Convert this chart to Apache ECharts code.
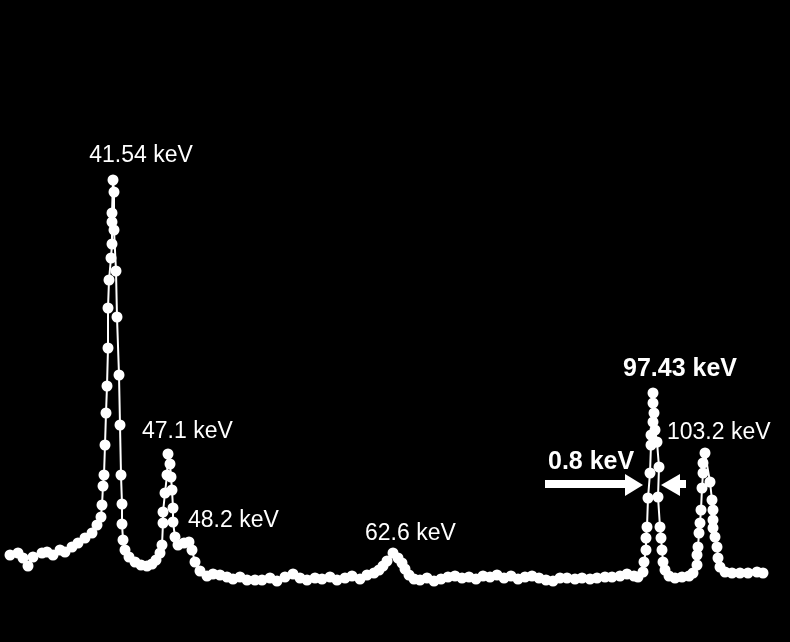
<!DOCTYPE html>
<html>
<head>
<meta charset="utf-8">
<title>spectrum</title>
<script src="https://cdn.jsdelivr.net/npm/echarts@6/dist/echarts.min.js"></script>
<style>
  html, body { margin: 0; padding: 0; background: #000; }
  #chart { width: 790px; height: 642px; }
</style>
</head>
<body>
<div id="chart"></div>
<script>
// channel position (along energy axis) and counts in drawing order
var channel = [
  10, 18, 23, 28, 33, 42, 47, 53, 60, 65, 72, 78, 85, 92, 97,
  101, 102, 103, 104, 105, 106, 107, 108, 108, 109, 111, 112, 112, 112, 113,
  114, 114, 116, 117, 119, 120, 121, 122, 122, 123, 125, 129, 135, 141, 147, 152, 156, 160,
  162, 163, 163, 165, 167, 168,
  170, 171, 172, 173, 173, 175, 178, 184, 189, 192, 195, 200, 207, 213, 220, 227, 233, 240, 247, 255,
  262, 270, 277, 285, 293, 300, 307, 315, 322, 330, 337, 345, 352, 360, 367, 374, 379, 383, 387, 393,
  398, 402, 405, 409, 414, 420, 427, 434, 441, 448, 455, 462, 469, 476, 483, 490, 497, 504, 511, 518,
  525, 532, 539, 546, 553, 560, 567, 575, 582, 590, 597, 605, 612, 620, 627, 634, 638,
  643, 644, 646, 646, 647, 648, 650, 651, 651, 653, 653, 653,
  654, 655, 657, 659, 658, 660, 661, 662, 663, 665, 669, 675, 682, 689, 693,
  697, 697, 698, 699, 700, 701, 702, 703, 703, 705,
  710, 712, 713, 713, 713, 715, 717, 718, 720, 725, 732, 740, 748, 757, 763
];
var counts = [
  87, 89, 84, 76, 85, 89, 90, 87, 92, 90, 95, 99, 104, 109, 117,
  125, 137, 156, 167, 197, 229, 256, 294, 334, 362, 384, 398, 420, 429, 462,
  450, 412, 371, 325, 267, 217, 167, 138, 118, 102, 92, 85, 80, 77, 76, 78, 82, 89,
  97, 119, 130, 149, 167, 188,
  178, 165, 152, 134, 120, 105, 97, 99, 100, 92, 80, 71, 66, 68, 67, 65, 63, 65, 62, 62,
  62, 64, 61, 65, 68, 64, 62, 64, 63, 65, 62, 64, 66, 63, 67, 69, 72, 76, 81, 89,
  84, 79, 73, 67, 63, 62, 64, 61, 63, 65, 66, 64, 65, 63, 66, 65, 67, 64, 66, 63,
  65, 66, 64, 62, 61, 64, 64, 63, 64, 63, 64, 65, 65, 66, 68, 66, 65,
  70, 80, 92, 104, 115, 144, 169, 197, 207, 220, 239, 249,
  229, 212, 200, 175, 145, 115, 104, 92, 80, 72, 66, 64, 65, 66, 69,
  77, 87, 95, 109, 119, 132, 154, 169, 179, 189,
  160, 142, 132, 122, 114, 105, 95, 84, 75, 70, 69, 69, 69, 70, 69
];
var peakLabels = ['41.54 keV', '47.1 keV', '48.2 keV', '62.6 keV', '97.43 keV', '103.2 keV'];
var widthLabel = '0.8 keV';

var points = channel.map(function (c, i) { return [c, counts[i]]; });

var chart = echarts.init(document.getElementById('chart'));
var normalFont = '23px "Liberation Sans", Arial, sans-serif';
var boldFont = 'bold 25px "Liberation Sans", Arial, sans-serif';

chart.setOption({
  backgroundColor: '#000',
  animation: false,
  grid: { left: 0, right: 0, top: 0, bottom: 0 },
  xAxis: { type: 'value', min: 0, max: 790, show: false },
  yAxis: { type: 'value', min: 0, max: 642, show: false },
  series: [{
    type: 'line',
    data: points,
    symbol: 'circle',
    symbolSize: 11,
    showAllSymbol: true,
    lineStyle: { color: '#fff', width: 2 },
    itemStyle: { color: '#fff' }
  }],
  graphic: [
    { type: 'text', x: 141, y: 156, style: { text: peakLabels[0], font: normalFont, fill: '#fff', align: 'center', verticalAlign: 'middle' } },
    { type: 'text', x: 142, y: 432, style: { text: peakLabels[1], font: normalFont, fill: '#fff', verticalAlign: 'middle' } },
    { type: 'text', x: 188, y: 521, style: { text: peakLabels[2], font: normalFont, fill: '#fff', verticalAlign: 'middle' } },
    { type: 'text', x: 365, y: 534, style: { text: peakLabels[3], font: normalFont, fill: '#fff', verticalAlign: 'middle' } },
    { type: 'text', x: 623, y: 369, style: { text: peakLabels[4], font: boldFont, fill: '#fff', verticalAlign: 'middle' } },
    { type: 'text', x: 667, y: 433, style: { text: peakLabels[5], font: normalFont, fill: '#fff', verticalAlign: 'middle' } },
    { type: 'text', x: 548, y: 462, style: { text: widthLabel, font: boldFont, fill: '#fff', verticalAlign: 'middle' } },
    // arrow pointing right
    { type: 'rect', shape: { x: 545, y: 480, width: 82, height: 8 }, style: { fill: '#fff' } },
    { type: 'polygon', shape: { points: [[625, 474], [643, 485], [625, 496]] }, style: { fill: '#fff' } },
    // arrow pointing left
    { type: 'polygon', shape: { points: [[680, 474], [661, 485], [680, 496]] }, style: { fill: '#fff' } },
    { type: 'rect', shape: { x: 679, y: 480, width: 7, height: 8 }, style: { fill: '#fff' } }
  ]
});
</script>
</body>
</html>
